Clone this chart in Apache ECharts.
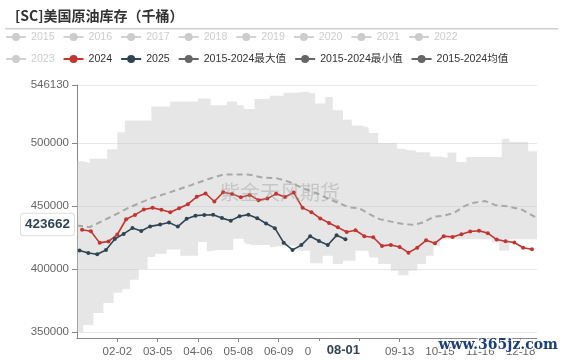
<!DOCTYPE html>
<html><head><meta charset="utf-8">
<script src="https://cdn.jsdelivr.net/npm/echarts@6/dist/echarts.min.js"></script>
<style>html,body{margin:0;padding:0;background:#fff}#c{width:563px;height:360px}</style>
</head><body><div id="c"></div>
<script>
// ---- data ----
const legendYears = ['2015','2016','2017','2018','2019','2020','2021','2022','2023'];
const dates2024 = ['01-05','01-12','01-19','01-26','02-02','02-09','02-16','02-23','03-01','03-08','03-15','03-22','03-29','04-05','04-12','04-19','04-26','05-03','05-10','05-17','05-24','05-31','06-07','06-14','06-21','06-28','07-05','07-12','07-19','07-26','08-02','08-09','08-16','08-23','08-30','09-06','09-13','09-20','09-27','10-04','10-11','10-18','10-25','11-01','11-08','11-15','11-22','11-29','12-06','12-13','12-20','12-27'];
const values2024 = [431076,429912,420727,421903,427357,439494,442937,447159,448532,447033,445042,448224,451431,457263,459963,453578,460908,459515,456968,458803,454656,455875,459651,457105,460695,448529,445135,440163,436504,433049,429337,430734,426027,425194,418331,419097,417497,412968,416860,422720,420458,425954,425452,427652,429724,430294,428449,423362,422010,421023,416879,415612];
const dates2025 = ['01-03','01-10','01-17','01-24','01-31','02-07','02-14','02-21','02-28','03-07','03-14','03-21','03-28','04-04','04-11','04-18','04-25','05-02','05-09','05-16','05-23','05-30','06-06','06-13','06-20','06-27','07-04','07-11','07-18','07-25','08-01'];
const values2025 = [414610,412660,411670,415120,423790,427860,432490,430160,433800,435240,436960,433630,439790,442350,442860,443080,440390,438370,441820,443150,440360,436100,432410,420870,415110,418950,426020,422160,418990,426690,423662];
const meanDates = ['01-01','01-11','01-22','02-02','02-12','02-28','03-15','03-31','04-15','04-26','05-07','05-17','05-28','06-07','06-18','06-29','07-09','07-19','07-27','08-04','08-12','08-20','08-28','09-09','09-16','09-24','10-02','10-10','10-18','10-26','11-03','11-09','11-20','11-28','12-08','12-19','12-30'];
const meanValues = [434600,433200,438500,443900,449100,455800,461000,466400,471700,474900,475100,474900,472500,472200,469000,463800,460300,455500,452300,448900,448100,443600,439600,437000,435600,435100,437000,441500,442300,444400,449700,452300,453900,450700,449700,447100,441000];
const bandDates = ['01-01','01-06','01-11','01-14','01-22','01-25','01-30','02-02','02-06','02-08','02-12','02-19','02-26','02-29','03-03','03-12','03-15','03-23','04-06','04-13','04-16','04-21','04-29','05-04','05-07','05-12','05-13','05-19','05-21','06-02','06-13','06-24','07-02','07-04','07-08','07-14','07-16','07-22','07-30','08-06','08-09','08-14','08-19','08-20','08-27','09-06','09-11','09-12','09-16','09-20','09-25','09-27','10-04','10-07','10-10','10-15','10-21','10-28','11-05','11-25','12-01','12-03','12-09','12-24','12-31'];
const bandMax = [485500,484000,487500,487500,487500,495000,495000,508500,508500,518000,518000,518000,518000,529000,529000,529000,533000,533000,535500,535500,530000,530000,533000,533000,530000,530000,527000,527000,535000,537500,540000,541000,539500,539500,531500,531500,536500,526000,518500,514000,514000,512500,512500,508000,500000,500000,495500,495500,494200,494200,492800,492800,492800,489400,489400,488400,492500,485000,489000,489000,489000,503500,501000,493500,493500];
const bandMin = [350000,355500,355500,365000,373000,373000,381000,381000,384000,384000,391500,400000,409500,409500,412000,415500,415500,410500,421500,414000,414000,415000,415000,424000,424000,420500,420500,419000,419000,417000,418500,414500,414500,404500,404500,410500,410500,404000,406500,406500,414500,414500,409000,409000,404000,398500,398500,395000,395000,398500,398500,404000,410500,410500,418500,423500,423500,423500,423500,421000,414500,414500,423500,423500,423500];
const yMin = 345150, yMax = 546130;
const pointerDate = '08-01';

// ---- categories: every day of a (leap) year ----
const categories = [];
(function(){const pad=n=>(n<10?'0':'')+n;const t0=Date.UTC(2024,0,1);for(let i=0;i<366;i++){const d=new Date(t0+i*86400000);categories.push(pad(d.getUTCMonth()+1)+'-'+pad(d.getUTCDate()));}})();

const pairs = (ds, vs) => ds.map((d, i) => [d, vs[i]]);
const FONT = '"Liberation Sans", "Noto Sans CJK SC", sans-serif';

const chart = echarts.init(document.getElementById('c'), null, {renderer: 'canvas'});
const series = legendYears.map(y => ({name: y, type: 'line', data: [], symbol: 'circle', itemStyle: {color: '#ccc'}}));
series.push(
  {name: '2015-2024最小值', type: 'line', stack: 'band', step: 'end', data: pairs(bandDates, bandMin),
   symbol: 'circle', showSymbol: false, silent: true, lineStyle: {opacity: 0}, itemStyle: {color: '#666'}, z: 1},
  {name: '2015-2024最大值', type: 'line', stack: 'band', step: 'end', data: bandDates.map((d, i) => [d, bandMax[i] - bandMin[i]]),
   symbol: 'circle', showSymbol: false, silent: true, lineStyle: {opacity: 0}, itemStyle: {color: '#666'},
   areaStyle: {color: 'rgba(200,200,200,0.45)', opacity: 1}, z: 1},
  {name: '2015-2024均值', type: 'line', data: pairs(meanDates, meanValues), symbol: 'circle', showSymbol: false,
   lineStyle: {color: '#a8a8a8', width: 2, type: [6, 4]}, itemStyle: {color: '#666'}, z: 2},
  {name: '2024', type: 'line', data: pairs(dates2024, values2024), symbol: 'circle', symbolSize: 4, showAllSymbol: true,
   lineStyle: {color: '#c23531', width: 1.6}, itemStyle: {color: '#c23531'}, z: 3},
  {name: '2025', type: 'line', data: pairs(dates2025, values2025), symbol: 'circle', symbolSize: 4, showAllSymbol: true,
   lineStyle: {color: '#2f4554', width: 1.6}, itemStyle: {color: '#2f4554'}, z: 4}
);
const statStyle = {itemStyle: {color: '#666'}, lineStyle: {color: '#666', opacity: 1, type: 'solid', width: 2}};
const legendData = legendYears.slice(0, 8).map(n => ({name: n}))
  .concat([''])
  .concat([{name: '2023'},
           {name: '2024'}, {name: '2025'},
           Object.assign({name: '2015-2024最大值'}, statStyle),
           Object.assign({name: '2015-2024最小值'}, statStyle),
           Object.assign({name: '2015-2024均值'}, statStyle)]);
const selected = {}; legendYears.forEach(y => selected[y] = false);

chart.setOption({
  animation: false,
  textStyle: {fontFamily: FONT},
  title: {text: '[SC]美国原油库存（千桶）', left: 10, top: 4,
          textStyle: {fontSize: 14, fontWeight: 'bold', color: '#333', fontFamily: '"Noto Sans CJK SC", sans-serif'}},
  legend: {data: legendData, selected: selected, left: 0, top: 25, itemWidth: 20, itemHeight: 10, itemGap: 8,
           textStyle: {fontSize: 10.6, lineHeight: 14, color: '#333', fontFamily: FONT}, inactiveColor: '#ccc'},
  grid: {left: 77, right: 26, top: 85, bottom: 22},
  xAxis: {type: 'category', data: categories, boundaryGap: false,
          axisLine: {lineStyle: {color: '#888'}},
          axisTick: {interval: (i) => i > 0 && i % 32 === 0, length: 4, lineStyle: {color: '#888'}},
          axisLabel: {interval: (i) => i > 0 && i % 32 === 0, color: '#666', fontSize: 11.5, margin: 8},
          splitLine: {show: false},
          axisPointer: {show: true, status: 'show', value: categories.indexOf(pointerDate), type: 'line',
                        lineStyle: {opacity: 0}, triggerTooltip: false,
                        label: {show: true, backgroundColor: '#fff', color: '#2f4554', fontWeight: 'bold', fontSize: 13,
                                padding: [3, 19, 3, 15], margin: 5, formatter: () => pointerDate}}},
  yAxis: {type: 'value', min: yMin, max: yMax,
          axisLine: {show: true, lineStyle: {color: '#888'}},
          axisTick: {show: true, length: 5, lineStyle: {color: '#888'}},
          axisLabel: {color: '#666', fontSize: 11.5, showMinLabel: false, showMaxLabel: true, formatter: v => v.toFixed(0)},
          splitLine: {lineStyle: {color: '#e8e8e8'}},
          axisPointer: {show: true, status: 'show', value: 435400, type: 'line', lineStyle: {opacity: 0}, triggerTooltip: false,
                        label: {show: true, backgroundColor: '#fff', color: '#2f4554', fontWeight: 'bold', fontSize: 13.5,
                                padding: [4, 4], borderColor: '#ddd', borderWidth: 1,
                                formatter: () => String(values2025[values2025.length - 1])}}},
  graphic: [
    {type: 'rect', shape: {x: 5, y: 28, width: 553, height: 1.5}, style: {fill: '#cfcfcf'}, silent: true},
    {type: 'text', left: 220, top: 182, silent: true, z: 10,
     style: {text: '紫金天风期货', fill: 'rgba(160,160,160,0.45)', font: '20px "Noto Sans CJK SC"'}},
    {type: 'text', left: 437, top: 337, silent: true, z: 10,
     style: {text: 'www.365jz.com', fill: '#1d3f7a', font: 'bold 14px "DejaVu Serif"', stroke: 'rgba(255,255,255,0.8)', lineWidth: 3}}
  ],
  series: series
});
</script></body></html>
